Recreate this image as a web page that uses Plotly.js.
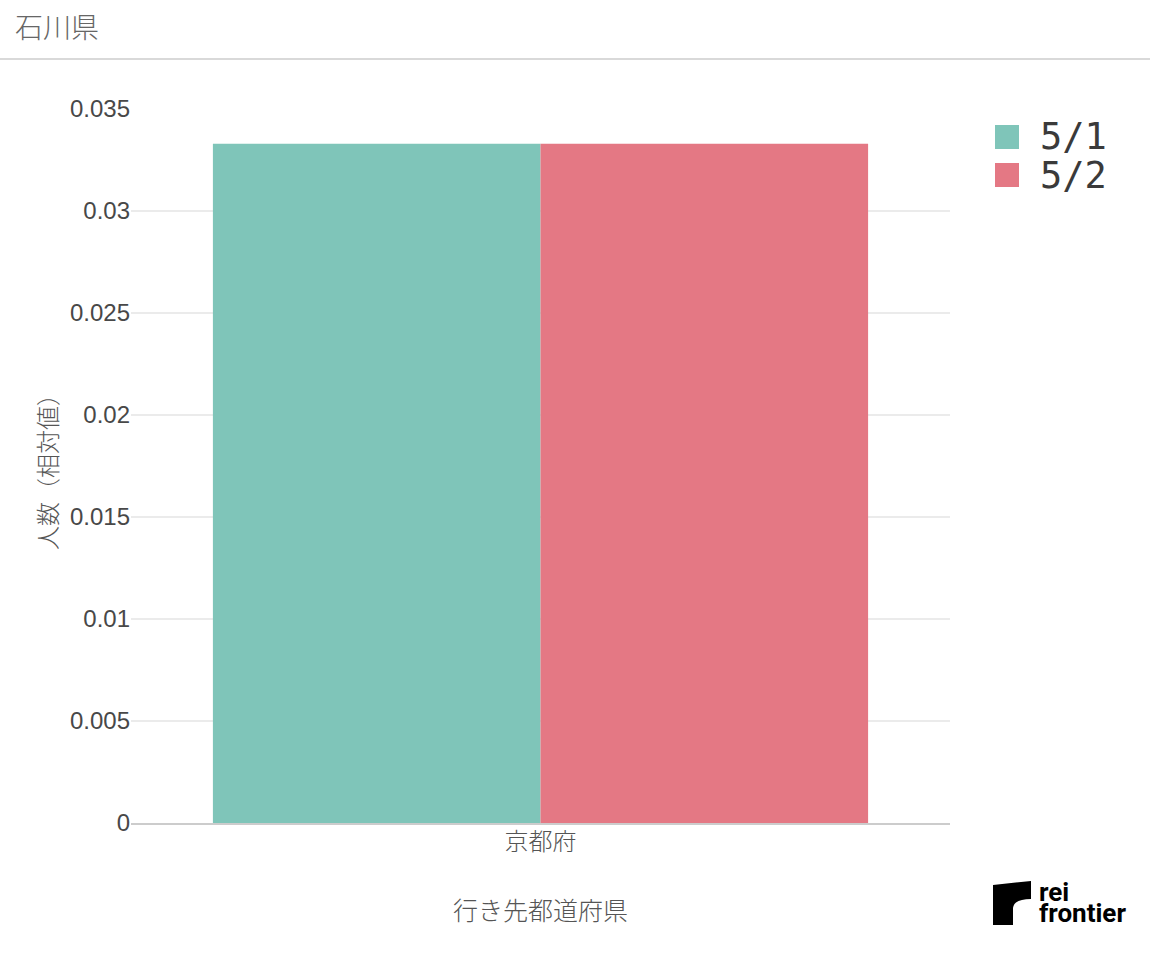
<!DOCTYPE html>
<html>
<head>
<meta charset="utf-8">
<script src="https://cdn.plot.ly/plotly-3.0.1.min.js"></script>
<style>
  html, body { margin: 0; padding: 0; background: #ffffff; }
  #chart { width: 1150px; height: 957px; }
</style>
</head>
<body>
<div id="chart"></div>
<script>
// ---- data ----
const chartTitle = '石川県';
const categories = ['京都府'];
const seriesNames = ['5/1', '5/2'];
const values_0501 = [0.0333];
const values_0502 = [0.0333];
const seriesColors = ['#7fc5b9', '#e47884'];
const yAxisTitle = '人数（相対値）';
const xAxisTitle = '行き先都道府県';
const logoLines = ['rei', 'frontier'];

// ---- layout helpers (page pixels -> paper coordinates) ----
const W = 1150, H = 957;
const M = { l: 131, r: 200, t: 109, b: 134 };
const PW = W - M.l - M.r, PH = H - M.t - M.b;
const px = x => (x - M.l) / PW;
const py = y => (H - M.b - y) / PH;

const cjk = '"Noto Sans CJK JP", "Noto Sans", sans-serif';
const latin = '"Liberation Sans", "Noto Sans CJK JP", sans-serif';

const seriesValues = [values_0501, values_0502];
const traces = seriesNames.map((name, i) => ({
  type: 'bar',
  name: name,
  x: categories,
  y: seriesValues[i],
  marker: { color: seriesColors[i], line: { width: 0 } },
  showlegend: false,
  hoverinfo: 'x+y+name'
}));

// custom legend (large swatches)
const legendShapes = [];
const legendAnnots = [];
seriesNames.forEach((name, i) => {
  const top = 125 + i * 38;
  legendShapes.push({
    type: 'rect', xref: 'paper', yref: 'paper',
    x0: px(995), x1: px(1019), y0: py(top), y1: py(top + 24),
    fillcolor: seriesColors[i], line: { width: 0 }
  });
  legendAnnots.push({
    xref: 'paper', yref: 'paper', x: px(1038), y: py(top + 12),
    xanchor: 'left', yanchor: 'middle', showarrow: false,
    text: name,
    font: { family: '"DejaVu Sans Mono", monospace', size: 37, color: '#3a3a3a' }
  });
});

// header rule
const headerLine = {
  type: 'line', xref: 'paper', yref: 'paper',
  x0: px(0), x1: px(W), y0: py(59), y1: py(59),
  line: { color: '#d9d9d9', width: 2 }
};

// no grid line drawn along the very top edge of the plot
const topEdge = {
  type: 'line', xref: 'paper', yref: 'paper', layer: 'above',
  x0: 0, x1: 1, y0: 1, y1: 1,
  line: { color: '#ffffff', width: 4 }
};

// logo mark
const logoPath = 'M' + px(993) + ',' + py(885) +
  ' L' + px(1031) + ',' + py(881) +
  ' L' + px(1031) + ',' + py(899) +
  ' Q' + px(1014) + ',' + py(899) + ' ' + px(1013) + ',' + py(908) +
  ' L' + px(1013) + ',' + py(925) +
  ' L' + px(993) + ',' + py(925) + ' Z';
const logoShape = {
  type: 'path', xref: 'paper', yref: 'paper', path: logoPath,
  fillcolor: '#000000', line: { width: 0 }
};
const logoAnnots = logoLines.map((t, i) => ({
  xref: 'paper', yref: 'paper', x: px(1037), y: py(892 + i * 21),
  xanchor: 'left', yanchor: 'middle', showarrow: false,
  text: '<b>' + t + '</b>',
  font: { family: 'Roboto, "Liberation Sans", sans-serif', size: 26, color: '#000000' }
}));

const layout = {
  width: W, height: H,
  margin: M,
  paper_bgcolor: '#ffffff',
  plot_bgcolor: '#ffffff',
  barmode: 'group',
  bargap: 0.2,
  showlegend: false,
  title: {
    text: chartTitle,
    xref: 'container', yref: 'container',
    x: 15 / W, xanchor: 'left',
    y: 1 - 28 / H, yanchor: 'middle',
    font: { family: cjk, size: 28, color: '#666666', weight: 300 }
  },
  xaxis: {
    type: 'category',
    showgrid: false,
    showline: true, linecolor: '#cccccc', linewidth: 2,
    ticks: '',
    ticklabelstandoff: -4,
    tickfont: { family: cjk, size: 24, color: '#555555', weight: 300 },
    title: { text: xAxisTitle, standoff: 47, font: { family: cjk, size: 25, color: '#555555', weight: 300 } },
    fixedrange: true
  },
  yaxis: {
    range: [0, 0.035],
    showgrid: true, gridcolor: '#ebebeb', gridwidth: 2,
    zeroline: false,
    ticks: '',
    tickfont: { family: latin, size: 24, color: '#484848' },
    title: { text: yAxisTitle, standoff: 5, font: { family: cjk, size: 24, color: '#555555', weight: 300 } },
    fixedrange: true
  },
  shapes: [headerLine, topEdge, logoShape].concat(legendShapes),
  annotations: legendAnnots.concat(logoAnnots)
};

Plotly.newPlot('chart', traces, layout, { displayModeBar: false, staticPlot: true });
</script>
</body>
</html>
